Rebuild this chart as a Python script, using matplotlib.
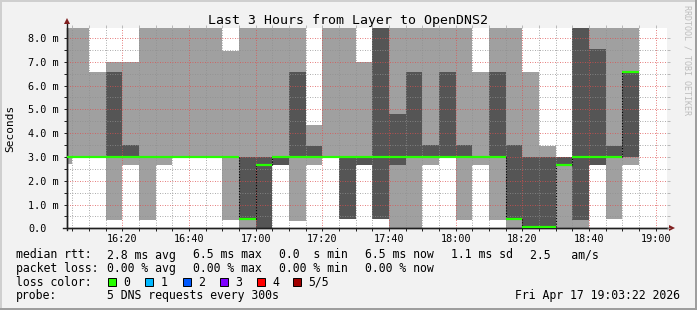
import numpy as np
import matplotlib
matplotlib.use('Agg')
import matplotlib.pyplot as plt
from matplotlib.patches import Rectangle
from matplotlib.ticker import MultipleLocator, FixedLocator

TOP = 10.0  # ping above the visible range

# one entry per 5 minute step, minutes after 16:00
t_start = np.arange(0, 175, 5)
# the 5 sorted ping times of every step (ms)
ping1 = [2.7, 3.0, 3.0, 0.35, 2.65, 0.35, 2.65, 3.0, 3.0, 3.0,
         0.35, 0.0, 0.0, 2.66, 0.3, 2.66, 3.0, 0.4, 2.66, 0.4,
         0.0, 0.0, 2.66, 3.0, 0.35, 2.66, 0.35, 0.0, 0.05, 0.05,
         0.0, 0.0, 2.66, 0.38, 2.66]
ping2 = [3.0, 3.0, 3.0, 3.0, 3.0, 3.0, 3.0, 3.0, 3.0, 3.0,
         3.0, 0.37, 0.0, 2.66, 3.0, 3.0, 3.0, 0.4, 2.66, 0.4,
         2.66, 3.0, 3.0, 3.0, 3.0, 3.0, 3.0, 0.38, 0.05, 0.05,
         2.66, 0.35, 2.66, 3.0, 3.0]
median = [3.0, 3.0, 3.0, 3.0, 3.0, 3.0, 3.0, 3.0, 3.0, 3.0,
          3.0, 0.37, 2.66, 3.0, 3.0, 3.0, 3.0, 3.0, 3.0, 3.0,
          3.0, 3.0, 3.0, 3.0, 3.0, 3.0, 3.0, 0.38, 0.05, 0.05,
          2.66, 3.0, 3.0, 3.0, 6.55]
ping4 = [3.0, 3.0, 3.0, 6.55, 3.5, 3.0, 3.0, 3.0, 3.0, 3.0,
         3.0, 3.0, 3.0, 3.0, 6.55, 3.47, 3.0, 3.0, 3.0, TOP,
         4.8, 6.55, 3.5, 6.55, 3.5, 3.0, 6.55, 3.5, 3.0, 3.0,
         3.0, TOP, 7.53, 3.47, 6.55]
ping5 = [TOP, TOP, 6.55, 7.0, 7.0, TOP, TOP, TOP, TOP, TOP,
         7.45, TOP, TOP, TOP, TOP, 4.34, TOP, TOP, 7.0, TOP,
         TOP, TOP, TOP, TOP, TOP, 6.55, TOP, TOP, 6.55, 3.47,
         3.0, TOP, TOP, TOP, TOP]

x_ticks = [20, 40, 60, 80, 100, 120, 140, 160, 180]
x_labels = ['16:20', '16:40', '17:00', '17:20', '17:40', '18:00', '18:20', '18:40', '19:00']
y_ticks = [0, 1, 2, 3, 4, 5, 6, 7, 8]
y_labels = ['0.0', '1.0 m', '2.0 m', '3.0 m', '4.0 m', '5.0 m', '6.0 m', '7.0 m', '8.0 m']

stats = [
    ['median rtt:', '2.8 ms avg', '6.5 ms max', '0.0  s min', '6.5 ms now', '1.1 ms sd', '2.5   am/s'],
    ['packet loss:', '0.00 % avg', '0.00 % max', '0.00 % min', '0.00 % now'],
]
loss_names = ['0', '1', '2', '3', '4', '5/5']
loss_colors = ['#26ff00', '#00b8ff', '#0059ff', '#7e00ff', '#ff0000', '#a10000']
probe_text = '5 DNS requests every 300s'
stamp = 'Fri Apr 17 19:03:22 2026'

W, H = 697, 310
MONO = 'DejaVu Sans Mono'
XLIM = (3.367, 183.367)
YLIM = (0, 8.42)


def fx(x):
    return x / W


def fy(y):
    return 1 - y / H


fig = plt.figure(figsize=(W / 100, H / 100), dpi=100, facecolor='#f2f2f2')
rect = [fx(67), fy(228.3), 600 / W, 200.3 / H]
ax = fig.add_axes(rect)
ax.set_facecolor('white')

# smoke: outer and inner ping ranges
edges = np.append(t_start, t_start[-1] + 5)
def ext(v):
    return np.append(v, v[-1])

ax.fill_between(edges, ext(ping1), ext(ping5), step='post', color='#a0a0a0', lw=0, zorder=1)
ax.fill_between(edges, ext(ping2), ext(ping4), step='post', color='#555555', lw=0, zorder=1.1)

# median: green steps, dotted black risers
med = np.array(median)
ax.hlines(med, t_start, t_start + 5, colors='#26ff00', lw=1.6, zorder=3, capstyle='butt')
jump = np.nonzero(np.diff(med))[0] + 1
ax.vlines(t_start[jump], med[jump - 1], med[jump], colors='black', lw=0.8,
          linestyles=(0, (1, 1.5)), zorder=2.5)

ax.set_xlim(*XLIM)
ax.set_ylim(*YLIM)

ax.xaxis.set_major_locator(FixedLocator(x_ticks))
ax.xaxis.set_minor_locator(MultipleLocator(5))
ax.set_xticklabels(x_labels, fontfamily=MONO, fontsize=7.3)
ax.yaxis.set_major_locator(FixedLocator(y_ticks))
ax.yaxis.set_minor_locator(MultipleLocator(0.5))
ax.set_yticklabels(y_labels, fontfamily=MONO, fontsize=7.3, ha='left')
ax.tick_params(axis='both', which='both', direction='out', length=2, width=0.7, color='#1f1f1f')
ax.tick_params(axis='x', pad=2)
ax.tick_params(axis='y', pad=26)

ax.grid(which='minor', color=(0.56, 0.56, 0.56, 0.75), lw=0.6, linestyle=(0, (1, 2)))
ax.grid(which='major', color=(0.87, 0.31, 0.31, 0.6), lw=0.6, linestyle=(0, (1, 2)))

for s in ['top', 'right']:
    ax.spines[s].set_visible(False)
for s in ['left', 'bottom']:
    ax.spines[s].set_color('#1f1f1f')
    ax.spines[s].set_linewidth(1)

# grid stubs poking out on top and right
ax2 = fig.add_axes(rect, frameon=False)
ax2.set_xlim(*XLIM)
ax2.set_ylim(*YLIM)
ax2.xaxis.set_major_locator(MultipleLocator(5))
ax2.yaxis.set_major_locator(MultipleLocator(0.5))
ax2.tick_params(bottom=False, left=False, top=True, right=True, labelbottom=False, labelleft=False,
                direction='out', length=2, width=0.6, color='#b0b0b0')
ax2.patch.set_visible(False)

# axis stubs and arrows
ax.plot([-4 / 600, 1 + 3 / 600], [0, 0], transform=ax.transAxes, clip_on=False, color='#1f1f1f', lw=1)
ax.plot([0, 0], [-2 / 200.3, 1 + 4 / 200.3], transform=ax.transAxes, clip_on=False, color='#1f1f1f', lw=1)
ax.plot([1 + 5 / 600], [0], marker='>', ms=4.5, mew=0, color='#801f1f', transform=ax.transAxes, clip_on=False)
ax.plot([0], [1 + 7 / 200.3], marker='^', ms=4.5, mew=0, color='#801f1f', transform=ax.transAxes, clip_on=False)

# titles
fig.text(fx(348), fy(24), 'Last 3 Hours from Layer to OpenDNS2', fontfamily=MONO, fontsize=9.5,
         ha='center', va='baseline')
fig.text(fx(10.5), fy(128), 'Seconds', fontfamily=MONO, fontsize=8, rotation=90, ha='center', va='center')
fig.text(fx(687), fy(60), 'RRDTOOL / TOBI OETIKER', fontfamily=MONO, fontsize=6, rotation=270,
         ha='center', va='center', color='#bdbdbd')

# legend block
col_x = [16, 107, 193, 279, 365, 451, 530]
base = [258.5, 272, 285.8, 299.5]
for row, items in enumerate(stats):
    for x, s in zip(col_x, items):
        fig.text(fx(x), fy(base[row]), s, fontfamily=MONO, fontsize=8.3, va='baseline')

fig.text(fx(16), fy(base[2]), 'loss color:', fontfamily=MONO, fontsize=8.3, va='baseline')
box_x = [108.4, 145.3, 182.7, 219.6, 256.9, 293.3]
for x, name, c in zip(box_x, loss_names, loss_colors):
    fig.add_artist(Rectangle((fx(x), fy(286)), 8 / W, 8 / H, transform=fig.transFigure,
                             facecolor=c, edgecolor='black', lw=0.7))
    fig.text(fx(x + 15.2), fy(base[2]), name, fontfamily=MONO, fontsize=8.3, va='baseline')

fig.text(fx(16), fy(base[3]), 'probe:', fontfamily=MONO, fontsize=8.3, va='baseline')
fig.text(fx(107), fy(base[3]), probe_text, fontfamily=MONO, fontsize=8.3, va='baseline')
fig.text(fx(680), fy(base[3]), stamp, fontfamily=MONO, fontsize=8.3, va='baseline', ha='right')

# 3d frame
fig.add_artist(Rectangle((0, 1 - 2 / H), 1, 2 / H, transform=fig.transFigure, color='#cfcfcf', lw=0))
fig.add_artist(Rectangle((0, 0), 2 / W, 1, transform=fig.transFigure, color='#cfcfcf', lw=0))
fig.add_artist(Rectangle((0, 0), 1, 2 / H, transform=fig.transFigure, color='#9e9e9e', lw=0))
fig.add_artist(Rectangle((1 - 2 / W, 0), 2 / W, 1, transform=fig.transFigure, color='#9e9e9e', lw=0))

fig.savefig('out.png', dpi=100, facecolor=fig.get_facecolor())
